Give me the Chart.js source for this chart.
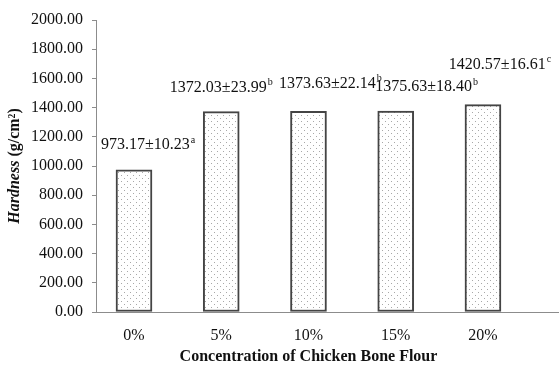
<!DOCTYPE html>
<html>
<head>
<meta charset="utf-8">
<script src="https://cdn.jsdelivr.net/npm/chart.js@4/dist/chart.umd.min.js"></script>
<style>
  html, body { margin: 0; padding: 0; background: #fff; }
  canvas { display: block; }
</style>
</head>
<body>
<canvas id="chart" width="560" height="365"></canvas>
<script>
// Hardness of products at each chicken bone flour level (mean ± SD, significance group)
const categories = ['0%', '5%', '10%', '15%', '20%'];
const hardness = [973.17, 1372.03, 1373.63, 1375.63, 1420.57];
const stdDev = [10.23, 23.99, 22.14, 18.40, 16.61];
const groups = ['a', 'b', 'b', 'b', 'c'];
const yTicks = [0, 200, 400, 600, 800, 1000, 1200, 1400, 1600, 1800, 2000];

// Label placement relative to the top centre of each bar (px)
const labelNudge = [[14, -25], [0, -24], [22, -28], [31, -24], [17, -40]];

const FONT = '"Liberation Serif", "Times New Roman", serif';
const AXIS_GREY = '#8c8c8c';

const canvas = document.getElementById('chart');
const ctx = canvas.getContext('2d');

// light dotted fill for the bars
function dotPattern() {
  const t = document.createElement('canvas');
  t.width = 6; t.height = 6;
  const g = t.getContext('2d');
  g.fillStyle = '#ffffff';
  g.fillRect(0, 0, 6, 6);
  g.fillStyle = '#a8a8a8';
  g.fillRect(1, 1, 1, 1);
  g.fillRect(4, 4, 1, 1);
  return ctx.createPattern(t, 'repeat');
}

const valueLabels = {
  id: 'valueLabels',
  afterDatasetsDraw(chart) {
    const c = chart.ctx;
    const meta = chart.getDatasetMeta(0);
    c.save();
    c.fillStyle = '#111';
    c.textBaseline = 'middle';
    meta.data.forEach((bar, i) => {
      const main = hardness[i].toFixed(2) + '±' + stdDev[i].toFixed(2);
      const sup = groups[i];
      c.font = '16px ' + FONT;
      const wMain = c.measureText(main).width;
      c.font = '10px ' + FONT;
      const wSup = c.measureText(sup).width;
      const total = wMain + wSup + 1;
      const cx = bar.x + labelNudge[i][0];
      const cy = bar.y + labelNudge[i][1];
      const x0 = cx - total / 2;
      c.textAlign = 'left';
      c.font = '16px ' + FONT;
      c.fillText(main, x0, cy);
      c.font = '10px ' + FONT;
      c.fillText(sup, x0 + wMain + 1, cy - 5);
    });
    c.restore();
  }
};

const axisTitles = {
  id: 'axisTitles',
  afterDraw(chart) {
    const c = chart.ctx;
    const xs = chart.scales.x;
    const area = chart.chartArea;
    c.save();
    c.fillStyle = '#111';
    c.textBaseline = 'middle';

    // x axis title, centred over the categories
    const xc = (xs.getPixelForValue(0) + xs.getPixelForValue(categories.length - 1)) / 2;
    c.font = 'bold 16px ' + FONT;
    c.textAlign = 'center';
    c.fillText('Concentration of Chicken Bone Flour', xc, 357);

    // y axis title: italic "Hardness" followed by the unit
    const partA = 'Hardness';
    const partB = ' (g/cm²)';
    c.font = 'italic bold 16px ' + FONT;
    const wA = c.measureText(partA).width;
    c.font = 'bold 16px ' + FONT;
    const wB = c.measureText(partB).width;
    c.translate(15, (area.top + area.bottom) / 2);
    c.rotate(-Math.PI / 2);
    c.textAlign = 'left';
    const start = -(wA + wB) / 2;
    c.font = 'italic bold 16px ' + FONT;
    c.fillText(partA, start, 0);
    c.font = 'bold 16px ' + FONT;
    c.fillText(partB, start + wA, 0);
    c.restore();
  }
};

new Chart(ctx, {
  type: 'bar',
  data: {
    datasets: [{
      data: hardness.map((v, i) => ({ x: i, y: v })),
      backgroundColor: dotPattern(),
      borderColor: '#444444',
      borderWidth: 2,
      borderSkipped: false,
      barThickness: 36
    }]
  },
  options: {
    responsive: false,
    animation: false,
    devicePixelRatio: 1,
    layout: { padding: { top: 20, right: 2, left: 0, bottom: 0 } },
    plugins: {
      legend: { display: false },
      tooltip: { enabled: false }
    },
    scales: {
      x: {
        type: 'linear',
        offset: false,
        min: -0.4355,
        max: 4.86,
        grid: { display: false, drawTicks: false },
        border: { display: true, color: AXIS_GREY, width: 1 },
        afterBuildTicks(scale) {
          scale.ticks = categories.map((_, i) => ({ value: i }));
        },
        ticks: {
          callback: (v) => categories[v],
          font: { family: FONT, size: 16 },
          color: '#111',
          padding: 14,
          maxRotation: 0,
          autoSkip: false
        },
        afterFit(scale) { scale.height = 53; }
      },
      y: {
        min: 0,
        max: 2000,
        afterBuildTicks(scale) {
          scale.ticks = yTicks.map(v => ({ value: v }));
        },
        ticks: {
          callback: (v) => Number(v).toFixed(2),
          font: { family: FONT, size: 16 },
          color: '#111',
          padding: 9
        },
        grid: { drawOnChartArea: false, drawTicks: true, tickLength: 4, color: AXIS_GREY },
        border: { display: true, color: AXIS_GREY, width: 1 },
        afterFit(scale) { scale.width = 96; }
      }
    }
  },
  plugins: [valueLabels, axisTitles]
});
</script>
</body>
</html>
